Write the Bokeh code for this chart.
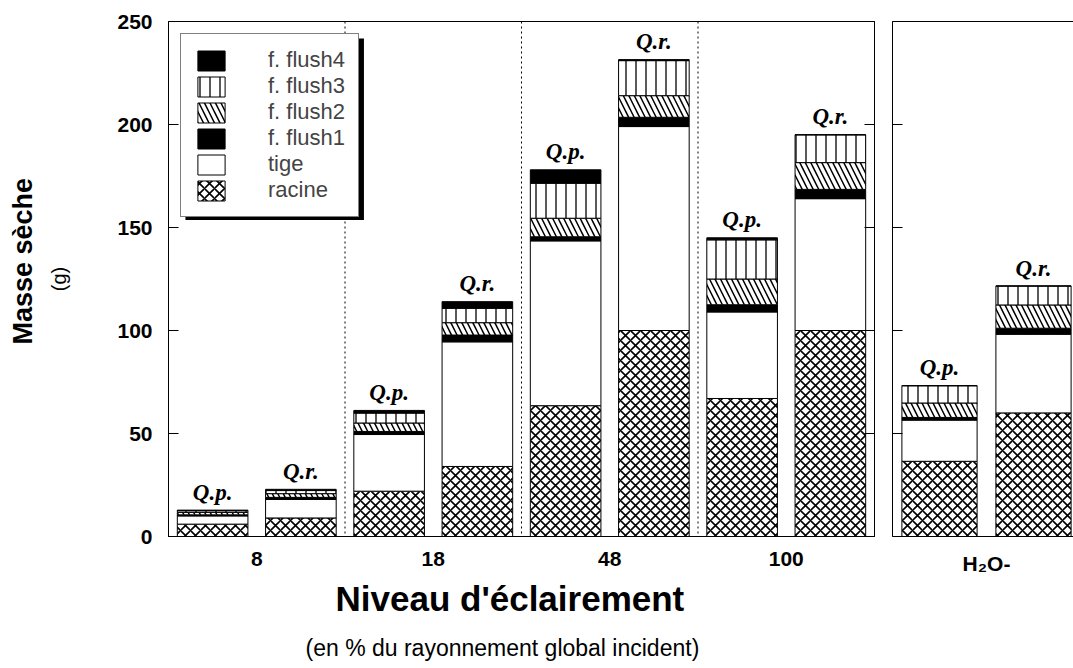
from bokeh.plotting import figure
from bokeh.models import (Range1d, FixedTicker, LinearAxis, Span, Legend, Title,
                          LegendItem, ColumnDataSource, BoxAnnotation)
from bokeh.layouts import row
from bokeh.embed import file_html
from bokeh.resources import INLINE
from bokeh.core.properties import value

# ---------------- data ----------------
conditions = ["8", "18", "48", "100", "H\u2082O-"]
species = ["Q.p.", "Q.r."]
# bar order: 8 Q.p., 8 Q.r., 18 Q.p., 18 Q.r., 48 Q.p., 48 Q.r., 100 Q.p., 100 Q.r., H2O- Q.p., H2O- Q.r.
racine = [6.0, 9.0, 22.0, 34.0, 63.5, 100.0, 67.0, 100.0, 36.5, 60.0]
tige   = [4.0, 9.0, 27.5, 60.5, 80.0, 99.0, 42.0, 64.0, 20.0, 38.2]
flush1 = [0.5, 1.0, 1.5, 3.3, 2.0, 4.5, 3.5, 4.5, 1.3, 2.9]
flush2 = [1.2, 1.8, 4.1, 6.0, 9.0, 10.5, 12.5, 13.0, 7.0, 11.3]
flush3 = [0.8, 1.5, 4.8, 7.0, 17.0, 17.0, 19.0, 13.5, 8.4, 9.2]
flush4 = [0.3, 0.6, 1.3, 3.2, 6.5, 0.5, 1.0, 0.0, 0.0, 0.0]
y_ticks = [0, 50, 100, 150, 200, 250]

comp_names = ["racine", "tige", "f. flush1", "f. flush2", "f. flush3", "f. flush4"]
comp_vals = [racine, tige, flush1, flush2, flush3, flush4]

styles = {
    "racine": dict(fill_color="white", hatch_pattern="x", hatch_color="black",
                   hatch_scale=10, hatch_weight=1.6),
    "tige": dict(fill_color="white"),
    "f. flush1": dict(fill_color="black"),
    "f. flush2": dict(fill_color="white", hatch_pattern="\\", hatch_color="black",
                      hatch_scale=11, hatch_weight=1.5),
    "f. flush3": dict(fill_color="white", hatch_pattern="|", hatch_color="black",
                      hatch_scale=10, hatch_weight=1.3),
    "f. flush4": dict(fill_color="black"),
}

FONT = "Liberation Sans"
H = 666
FRAME_TOP = 21
FRAME_BOTTOM = H - 537
FRAME_H = H - FRAME_TOP - FRAME_BOTTOM  # 516 px for 0..250
FRAME_LEFT = 166

n_main = 8
main_idx = list(range(n_main))
h2o_idx = [8, 9]


def draw_bars(p, idx):
    xs = list(range(len(idx)))
    bottom = [0.0] * len(idx)
    rends = {}
    for name, vals in zip(comp_names, comp_vals):
        v = [vals[i] for i in idx]
        top = [b + t for b, t in zip(bottom, v)]
        src = ColumnDataSource(dict(x=xs, bottom=bottom, top=top))
        rends[name] = p.vbar(x="x", width=0.8, bottom="bottom", top="top", source=src,
                             line_color="black", line_width=1, **styles[name])
        bottom = top
    src = ColumnDataSource(dict(x=xs, y=bottom, t=[species[i % 2] for i in idx]))
    p.text(x="x", y="y", text="t", source=src, text_align="center",
           text_baseline="alphabetic", y_offset=-18,
           text_font=value("Liberation Serif"), text_font_style="bold italic",
           text_font_size="23px", text_color="black")
    return rends


def style_common(p):
    p.grid.visible = False
    p.background_fill_color = "white"
    p.border_fill_color = "white"
    for ax in p.yaxis:
        ax.ticker = FixedTicker(ticks=y_ticks)
        ax.major_tick_in = 10
        ax.major_tick_out = 0
        ax.minor_tick_line_color = None
        ax.axis_line_color = "black"
        ax.major_tick_line_color = "black"
    for ax in p.xaxis:
        ax.major_tick_line_color = None
        ax.minor_tick_line_color = None
        ax.axis_line_color = "black"
        ax.major_label_text_font = FONT
        ax.major_label_text_font_style = "bold"
        ax.major_label_text_font_size = "21px"
        ax.major_label_text_color = "black"
        ax.major_label_standoff = 9


# ---------------- main panel ----------------
p1 = figure(width=882, height=H, x_range=Range1d(-0.5, n_main - 0.5), y_range=Range1d(0, 250),
            output_backend="svg", toolbar_location=None,
            min_border_left=FRAME_LEFT, min_border_right=8,
            min_border_top=FRAME_TOP, min_border_bottom=FRAME_BOTTOM)
p1.outline_line_color = "black"
p1.outline_line_width = 1

PX_X = 708 / n_main          # px per x unit
PX_Y = FRAME_H / 250.0       # px per y unit


def dx(px):
    return -0.5 + (px - FRAME_LEFT) / PX_X


def dy(py):
    return (FRAME_TOP + FRAME_H - py) / PX_Y


rends = draw_bars(p1, main_idx)
style_common(p1)

p1.xaxis.ticker = FixedTicker(ticks=[2 * g + 0.5 for g in range(4)])
p1.xaxis.major_label_overrides = {2 * g + 0.5: conditions[g] for g in range(4)}

p1.yaxis.major_label_text_font = FONT
p1.yaxis.major_label_text_font_style = "bold"
p1.yaxis.major_label_text_font_size = "21px"
p1.yaxis.major_label_text_color = "black"
p1.yaxis.major_label_standoff = 16
p1.yaxis.axis_label = "(g)"
p1.yaxis.axis_label_text_font = FONT
p1.yaxis.axis_label_text_font_style = "normal"
p1.yaxis.axis_label_text_font_size = "20px"
p1.yaxis.axis_label_text_color = "black"
p1.yaxis.axis_label_standoff = 44

ytitle = Title(text="Masse sèche", align="left", offset=192, vertical_align="middle",
               text_font=FONT, text_font_style="bold", text_font_size="27px",
               text_color="black", standoff=13)
p1.add_layout(ytitle, "left")

ra = LinearAxis(ticker=FixedTicker(ticks=y_ticks), major_tick_in=10, major_tick_out=0,
                minor_tick_line_color=None, major_label_text_font_size="0px",
                major_label_standoff=0, major_label_overrides={t: "" for t in y_ticks})
p1.add_layout(ra, "right")

xtitle = Title(text="Niveau d'éclairement", align="left", offset=167,
               text_font=FONT, text_font_style="bold", text_font_size="35px",
               text_color="black", standoff=17)
p1.add_layout(xtitle, "below")
sub = Title(text="(en % du rayonnement global incident)", align="left", offset=137,
            text_font=FONT, text_font_style="normal", text_font_size="23px",
            text_color="black", standoff=12)
p1.add_layout(sub, "below")

for g in range(1, 4):
    p1.add_layout(Span(location=2 * g - 0.5, dimension="height", line_color="black",
                       line_width=1, line_dash="2 3"))

# legend shadow (drawn before the legend)
shadow = BoxAnnotation(left=dx(183), right=dx(362), top=dy(38), bottom=dy(220),
                       fill_color="black", fill_alpha=1.0, line_color=None)
p1.add_layout(shadow)

items = [LegendItem(label=n, renderers=[rends[n]]) for n in reversed(comp_names)]
legend = Legend(items=items, location="top_left", margin=12, padding=13, spacing=0,
                glyph_width=34, glyph_height=25, label_height=25, label_standoff=40,
                label_text_font=FONT, label_text_font_size="22px",
                border_line_color="black", border_line_width=1.5,
                background_fill_color="white", background_fill_alpha=1.0)
p1.add_layout(legend)

# ---------------- H2O- panel ----------------
W2 = 191
PX_X2 = 94.0
p2 = figure(width=W2, height=H, x_range=Range1d(-0.5, -0.5 + (W2 - 10) / PX_X2),
            y_range=Range1d(0, 250), output_backend="svg", toolbar_location=None,
            min_border_left=10, min_border_right=0,
            min_border_top=FRAME_TOP, min_border_bottom=FRAME_BOTTOM)
p2.outline_line_color = None
draw_bars(p2, h2o_idx)
style_common(p2)
p2.xaxis.ticker = FixedTicker(ticks=[0.5])
p2.xaxis.major_label_overrides = {0.5: conditions[4]}
p2.yaxis.major_label_text_font_size = "0px"
p2.yaxis.major_label_standoff = 0
p2.yaxis.major_label_overrides = {t: "" for t in y_ticks}
top_ax = LinearAxis(ticker=FixedTicker(ticks=[]), major_tick_line_color=None,
                    minor_tick_line_color=None, major_label_text_font_size="0px",
                    major_label_standoff=0, axis_line_color="black")
p2.add_layout(top_ax, "above")

layout = row(p1, p2)
open("out.html", "w").write(file_html(layout, INLINE))
